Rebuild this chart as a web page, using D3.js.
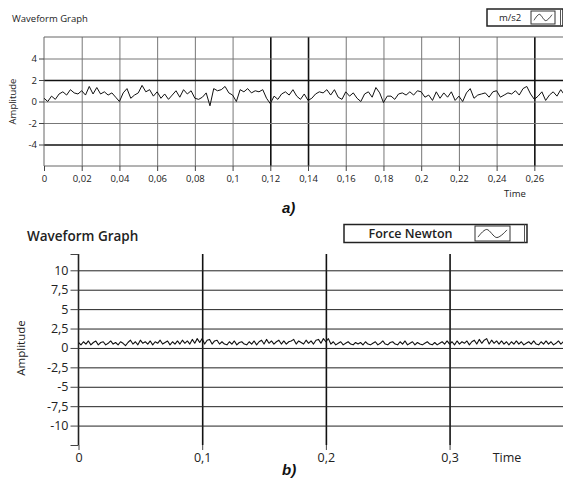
<!DOCTYPE html>
<html>
<head>
<meta charset="utf-8">
<script src="https://cdn.jsdelivr.net/npm/d3@7"></script>
<style>
	body { margin: 0; background: #fff; }
	svg { display: block; font-family: 'Open Sans', sans-serif; }
</style>
</head>
<body>
<svg id="chart" width="563" height="483"></svg>
<script>
// DATA
// a) acceleration waveform, one sample every accelDt seconds
const accelDt = 0.002;
const accelValues = [
	0.3, 0.0, 0.5, 0.2, 0.7, 0.9, 0.6, 1.1, 0.8, 0.7,
	1.0, 0.6, 1.4, 0.7, 1.3, 0.7, 0.9, 0.6, 0.8, 0.4,
	0.0, 0.8, 1.2, 0.3, 0.6, 0.8, 1.5, 0.9, 1.1, 0.5,
	0.9, 0.3, 0.7, 0.2, 0.6, 1.0, 0.4, 1.1, 0.7, 1.0,
	0.3, 0.2, 0.4, 0.8, -0.4, 1.2, 1.0, 1.1, 1.4, 0.8,
	0.6, 0.0, 1.1, 0.9, 1.2, 0.8, 1.0, 0.9, 1.1, 0.3,
	-0.2, 0.5, 0.2, 0.7, 0.9, 0.6, 1.1, 0.5, 0.2, 0.7,
	0.1, 0.3, 0.7, 0.9, 0.8, 1.1, 0.6, 1.1, 0.4, 0.2,
	0.9, 0.5, 0.8, 0.3, 0.0, 0.7, 0.9, 0.4, 1.3, 0.8,
	-0.1, 0.5, 0.5, 0.2, 0.7, 0.8, 0.6, 0.9, 0.6, 1.0,
	0.9, 0.4, 0.6, 0.1, 0.9, 0.3, 0.8, 0.4, 0.9, 0.1,
	0.5, 0.0, 0.8, 1.2, 0.3, 0.6, 0.7, 0.8, 0.4, 0.9,
	1.0, 0.4, 0.6, 0.8, 0.7, 1.0, 0.6, 1.2, 1.4, 0.7,
	0.2, 0.5, 0.9, 0.1, 0.6, 0.9, 0.5, 1.1, 0.6
];
const accelXTicks = [0, 0.02, 0.04, 0.06, 0.08, 0.1, 0.12, 0.14, 0.16, 0.18, 0.2, 0.22, 0.24, 0.26];
const accelYTicks = [-4, -2, 0, 2, 4];

// b) force waveform
const forceDt = 0.002;
const forceValues = [
	0.7, 0.4, 0.8, 0.5, 0.9, 0.4, 0.7, 0.9, 0.4, 0.7,
	0.8, 0.4, 0.6, 0.9, 0.5, 0.7, 0.4, 0.8, 0.6, 0.3,
	0.7, 1.0, 0.5, 0.8, 0.4, 1.0, 0.6, 0.8, 0.5, 0.9,
	0.4, 0.8, 0.6, 1.0, 0.5, 0.7, 0.9, 0.4, 0.8, 0.5,
	0.9, 0.5, 1.0, 0.6, 0.9, 0.5, 1.1, 0.6, 1.2, 0.7,
	1.2, 0.5, 1.0, 1.1, 0.5, 0.9, 1.0, 0.5, 0.8, 0.5,
	0.4, 0.8, 0.5, 0.9, 0.4, 0.7, 0.8, 0.5, 0.4, 0.8,
	0.5, 0.9, 0.4, 0.8, 1.0, 0.5, 1.1, 0.6, 0.9, 0.5,
	0.8, 1.0, 0.5, 0.9, 0.5, 0.8, 0.9, 1.1, 0.5, 0.9,
	0.7, 0.5, 1.0, 0.6, 0.9, 0.5, 1.0, 1.1, 0.6, 1.2,
	0.8, 1.2, 0.5, 0.8, 0.4, 0.6, 0.8, 0.4, 0.6, 0.8,
	0.5, 0.4, 0.7, 0.5, 0.7, 0.4, 0.8, 0.5, 0.4, 0.6,
	0.8, 0.4, 0.6, 0.9, 0.5, 0.4, 0.7, 0.8, 0.5, 0.4,
	0.8, 0.5, 0.9, 0.4, 0.6, 0.8, 0.4, 0.7, 0.5, 0.4,
	0.6, 0.8, 0.5, 0.4, 0.7, 0.4, 0.6, 0.8, 0.5, 0.9,
	0.5, 0.8, 0.4, 0.9, 0.5, 0.8, 0.6, 0.9, 0.4, 0.8,
	1.0, 0.5, 1.1, 0.6, 1.0, 1.2, 0.5, 1.0, 0.6, 0.9,
	0.5, 0.9, 0.5, 0.8, 0.4, 0.8, 0.5, 0.9, 0.5, 0.8,
	0.4, 0.6, 0.8, 0.5, 0.9, 0.5, 0.4, 0.8, 0.5, 0.9,
	0.5, 0.8, 0.4, 0.6, 0.9, 0.5, 0.8, 0.4, 0.6, 0.8
];
const forceXTicks = [0, 0.1, 0.2, 0.3];
const forceYTicks = [-10, -7.5, -5, -2.5, 0, 2.5, 5, 7.5, 10];



// THE GOOD STUFF
const svg = d3.select('#chart');
const fmt = d => `${d}`.replace('.', ',');

const panels = [
	{
		id: 'a',
		title: 'Waveform Graph', titleX: 12, titleY: 22, titleSize: 9.5, titleWeight: 400,
		legend: 'm/s2', legendBox: [487, 9, 563, 26], glyphBox: [531, 11, 555, 24], legendSize: 9.5,
		values: accelValues, dt: accelDt,
		xTicks: accelXTicks, yTicks: accelYTicks,
		xDomain: [0, 0.2752], yDomain: [-6, 6],
		left: 44, right: 563, top: 37, bottom: 166,
		fontSize: 9.5, labelSize: 9.5, xLabelY: 182, yTickSize: 5, xTickSize: 5,
		gridColour: '#777', heavyX: [0.12, 0.14, 0.26], heavyY: [2, -4], gridWidth: 1,
		borders: true, lineWidth: 1,
		ampX: 16, timeX: 515, timeY: 196.5,
		tag: 'a)', tagX: 282, tagY: 213
	},
	{
		id: 'b',
		title: 'Waveform Graph', titleX: 27, titleY: 241, titleSize: 13.5, titleWeight: 600,
		legend: 'Force Newton', legendBox: [344, 224.5, 527, 242.5], glyphBox: [475, 226, 510, 241], legendSize: 12.5,
		values: forceValues, dt: forceDt,
		xTicks: forceXTicks, yTicks: forceYTicks,
		xDomain: [0, 0.3917], yDomain: [-12.5, 12.1],
		left: 78.5, right: 563, top: 254, bottom: 445,
		fontSize: 12.5, labelSize: 11.5, xLabelY: 462, yTickSize: 8, xTickSize: 5,
		gridColour: '#222', heavyX: [0.1, 0.2, 0.3], heavyY: [], gridWidth: 1,
		borders: false, lineWidth: 1.1,
		ampX: 25, timeX: 507, timeY: 462,
		tag: 'b)', tagX: 282, tagY: 475
	}
];

const drawPanel = (p) => {
	const g = svg.append('g').attr('class', `panel-${p.id}`);
	const xScale = d3.scaleLinear().domain(p.xDomain).range([p.left, p.right]);
	const yScale = d3.scaleLinear().domain(p.yDomain).range([p.bottom, p.top]);
	const plotH = p.bottom - p.top;
	const plotW = p.right - p.left;

	// gridlines
	g.append('g')
		.attr('transform', `translate(0, ${p.bottom})`)
		.call(d3.axisBottom(xScale).tickValues(p.xTicks.filter(d => d > 0)).tickSize(-plotH).tickFormat(''))
		.call(g => g.select('.domain').remove())
		.call(g => g.selectAll('line')
			.attr('stroke', d => p.heavyX.includes(d) ? '#111' : p.gridColour)
			.attr('stroke-width', d => p.heavyX.includes(d) ? 1.6 : p.gridWidth));

	g.append('g')
		.attr('transform', `translate(${p.left}, 0)`)
		.call(d3.axisLeft(yScale).tickValues(p.yTicks).tickSize(-plotW).tickFormat(''))
		.call(g => g.select('.domain').remove())
		.call(g => g.selectAll('line')
			.attr('stroke', d => p.heavyY.includes(d) ? '#111' : p.gridColour)
			.attr('stroke-width', d => p.heavyY.includes(d) ? 1.6 : p.gridWidth));

	// frame
	if (p.borders) {
		g.append('path')
			.attr('d', `M${p.right},${p.top}H${p.left}V${p.bottom}H${p.right}`)
			.attr('fill', 'none')
			.attr('stroke', '#666')
			.attr('stroke-width', 1);
	} else {
		g.append('line')
			.attr('x1', p.left).attr('x2', p.left)
			.attr('y1', p.top).attr('y2', p.bottom)
			.attr('stroke', '#222')
			.attr('stroke-width', 1.6);
	}

	// x ticks & labels
	g.append('g')
		.attr('transform', `translate(0, ${p.bottom})`)
		.call(d3.axisBottom(xScale).tickValues(p.xTicks).tickSize(p.xTickSize).tickPadding(0).tickFormat(fmt))
		.call(g => g.select('.domain').remove())
		.call(g => g.selectAll('line').attr('stroke', '#444'))
		.call(g => g.selectAll('text')
			.attr('y', p.xLabelY - p.bottom)
			.attr('dy', 0)
			.attr('fill', '#222')
			.style('font-size', `${p.fontSize}px`)
			.style('font-family', "'Open Sans', sans-serif"));

	// y ticks & labels (edge ticks without labels)
	const yEdges = p.borders ? [] : p.yDomain;
	g.append('g')
		.attr('transform', `translate(${p.left}, 0)`)
		.call(d3.axisLeft(yScale).tickValues(p.yTicks.concat(yEdges)).tickSize(p.yTickSize).tickPadding(2).tickFormat(d => p.yTicks.includes(d) ? fmt(d) : ''))
		.call(g => g.select('.domain').remove())
		.call(g => g.selectAll('line').attr('stroke', '#444'))
		.call(g => g.selectAll('text')
			.attr('fill', '#222')
			.style('font-size', `${p.fontSize}px`)
			.style('font-family', "'Open Sans', sans-serif"));

	// data
	g.append('clipPath')
		.attr('id', `clip-${p.id}`)
		.append('rect')
		.attr('x', p.left).attr('y', p.top)
		.attr('width', plotW).attr('height', plotH);

	g.append('path')
		.datum(p.values)
		.attr('clip-path', `url(#clip-${p.id})`)
		.attr('fill', 'none')
		.attr('stroke', '#111')
		.attr('stroke-width', p.lineWidth)
		.attr('stroke-linejoin', 'round')
		.attr('d', d3.line()
			.x((d, i) => xScale(i * p.dt))
			.y(d => yScale(d)));

	// titles
	g.append('text')
		.attr('x', p.titleX).attr('y', p.titleY)
		.attr('fill', '#222')
		.style('font-size', `${p.titleSize}px`)
		.style('font-weight', p.titleWeight)
		.text(p.title);

	g.append('text')
		.attr('transform', `translate(${p.ampX}, ${yScale(0)}) rotate(-90)`)
		.attr('text-anchor', 'middle')
		.attr('fill', '#222')
		.style('font-size', `${p.labelSize}px`)
		.text('Amplitude');

	g.append('text')
		.attr('x', p.timeX).attr('y', p.timeY)
		.attr('text-anchor', 'middle')
		.attr('fill', '#222')
		.style('font-size', `${p.fontSize}px`)
		.text('Time');

	// legend
	const [lx0, ly0, lx1, ly1] = p.legendBox;
	const [gx0, gy0, gx1, gy1] = p.glyphBox;
	g.append('rect')
		.attr('x', lx0).attr('y', ly0)
		.attr('width', lx1 - lx0).attr('height', ly1 - ly0)
		.attr('fill', '#fff')
		.attr('stroke', '#222')
		.attr('stroke-width', 1.5);
	g.append('line')
		.attr('x1', lx1 - 2.5).attr('x2', lx1 - 2.5)
		.attr('y1', ly0).attr('y2', ly1)
		.attr('stroke', '#555');
	g.append('text')
		.attr('x', (lx0 + gx0) / 2 + 1).attr('y', (ly0 + ly1) / 2)
		.attr('dy', '0.35em')
		.attr('text-anchor', 'middle')
		.attr('fill', '#222')
		.style('font-size', `${p.legendSize}px`)
		.style('font-weight', p.titleWeight)
		.text(p.legend);
	g.append('rect')
		.attr('x', gx0).attr('y', gy0)
		.attr('width', gx1 - gx0).attr('height', gy1 - gy0)
		.attr('fill', '#fff')
		.attr('stroke', '#333')
		.attr('stroke-width', 1);
	const gx = d3.scaleLinear().range([gx0 + 3, gx1 - 3]);
	const gy = d3.scaleLinear().range([gy1 - 3, gy0 + 3]);
	g.append('path')
		.datum([[0, 0.1], [0.3, 0.95], [0.65, 0.05], [1, 0.9]])
		.attr('fill', 'none')
		.attr('stroke', '#222')
		.attr('stroke-width', 0.9)
		.attr('d', d3.line().x(d => gx(d[0])).y(d => gy(d[1])).curve(d3.curveCardinal));

	// panel tag
	svg.append('text')
		.attr('x', p.tagX).attr('y', p.tagY)
		.attr('fill', '#111')
		.style('font-family', "'Liberation Sans', Arial, sans-serif")
		.style('font-size', '15px')
		.style('font-weight', 700)
		.style('font-style', 'italic')
		.text(p.tag);
};

panels.forEach(drawPanel);
</script>
</body>
</html>
